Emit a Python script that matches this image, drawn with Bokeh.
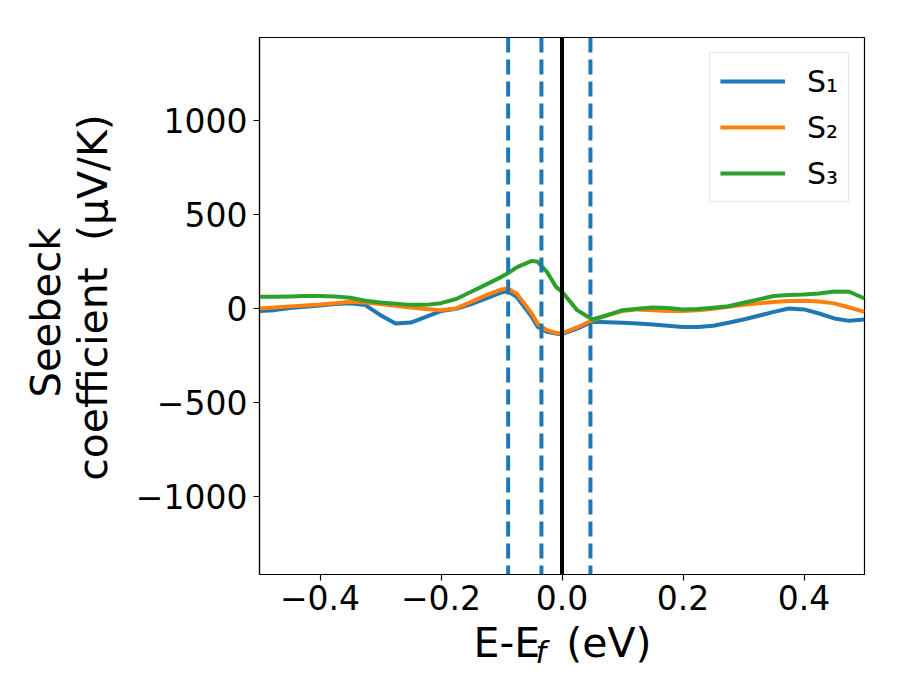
import math
from bokeh.plotting import figure
from bokeh.models import Span, Label, FixedTicker, CustomJSTickFormatter
from bokeh.embed import file_html
from bokeh.resources import INLINE

# ---- data ----
energy = [-0.5, -0.475, -0.45, -0.425, -0.4, -0.375, -0.35, -0.325, -0.3, -0.275,
          -0.25, -0.225, -0.2, -0.175, -0.15, -0.125, -0.1,
          -0.09, -0.075, -0.05, -0.04, -0.025, -0.01, 0.0,
          0.025, 0.05, 0.075, 0.1, 0.125, 0.15, 0.175, 0.2, 0.225, 0.25,
          0.275, 0.3, 0.325, 0.35, 0.375, 0.4, 0.425, 0.45, 0.475, 0.5]
s1 = [-14, -9, 2, 9, 16, 23, 27, 18, -36, -80,
      -75, -45, -14, -2, 23, 53, 85,
      92, 62, -45, -98, -124, -133, -137,
      -107, -71, -73, -76, -80, -85, -92, -99, -99, -92,
      -76, -59, -39, -18, 0, -5, -27, -53, -66, -59]
s2 = [0, 5, 11, 16, 21, 28, 35, 32, 23, 14,
      5, -3, -9, 0, 35, 71, 101,
      106, 80, -27, -83, -116, -130, -133,
      -101, -63, -36, -14, -5, -9, -14, -14, -9, -2,
      9, 20, 27, 34, 39, 41, 37, 27, 5, -18]
s3 = [62, 62, 64, 66, 66, 64, 57, 41, 32, 25,
      19, 19, 28, 50, 89, 128, 168,
      186, 218, 253, 248, 195, 115, 89,
      -9, -59, -36, -9, -2, 5, 2, -5, -3, 4,
      12, 30, 48, 66, 71, 74, 80, 90, 89, 53]
series_labels = ["S\u2081", "S\u2082", "S\u2083"]
series_colors = ["#1f77b4", "#ff7f0e", "#2ca02c"]
dashed_levels = [-0.089, -0.034, 0.047]
fermi_level = [0.0]
x_ticks = [-0.4, -0.2, 0.0, 0.2, 0.4]
y_ticks = [-1000, -500, 0, 500, 1000]
XR = (-0.5, 0.5)
YR = (-1415, 1441)

FONT = "DejaVu Sans"
FL, FT, FW, FH = 259, 37, 605, 537  # frame position on page (px)

p = figure(frame_width=FW, frame_height=FH, x_range=XR, y_range=YR,
           min_border_left=FL, min_border_top=FT,
           min_border_right=30, min_border_bottom=115,
           output_backend="svg", toolbar_location=None)
p.grid.visible = False
p.outline_line_color = "black"
p.outline_line_width = 1.2
p.background_fill_color = "white"
p.border_fill_color = "white"

for ax in (p.xaxis[0], p.yaxis[0]):
    ax.axis_line_color = "black"
    ax.axis_line_width = 1.2
    ax.major_tick_line_color = "black"
    ax.major_tick_line_width = 1.2
    ax.major_tick_in = 0
    ax.major_tick_out = 6
    ax.minor_tick_line_color = None
    ax.major_label_text_font = FONT
    ax.major_label_text_font_size = "33px"
    ax.major_label_text_color = "black"

p.xaxis.ticker = FixedTicker(ticks=x_ticks)
p.yaxis.ticker = FixedTicker(ticks=y_ticks)
p.xaxis.formatter = CustomJSTickFormatter(code="return tick.toFixed(1).replace('-', '\u2212');")
p.yaxis.formatter = CustomJSTickFormatter(code="return tick.toFixed(0).replace('-', '\u2212');")
p.xaxis.major_label_standoff = 4
p.yaxis.major_label_standoff = 6

for ys, lab, col in zip([s1, s2, s3], series_labels, series_colors):
    p.line(energy, ys, line_color=col, line_width=4, line_join="round", legend_label=lab)

for v in dashed_levels:
    p.add_layout(Span(location=v, dimension="height", line_color="#1f77b4",
                      line_width=4, line_dash="15 7"))
for v in fermi_level:
    p.add_layout(Span(location=v, dimension="height", line_color="black", line_width=4))

# legend
lg = p.legend[0]
lg.location = "top_right"
lg.margin = 15
lg.padding = 10
lg.spacing = 10
lg.glyph_width = 65
lg.glyph_height = 36
lg.label_standoff = 22
lg.label_text_font = FONT
lg.label_text_font_size = "30px"
lg.label_text_color = "black"
lg.border_line_color = "#cccccc"
lg.border_line_width = 1
lg.background_fill_alpha = 0.8

# helpers: page pixel -> data coordinates (for text placement only)
def dx(px):
    return XR[0] + (px - FL) / FW * (XR[1] - XR[0])

def dy(py):
    return YR[1] - (py - FT) / FH * (YR[1] - YR[0])

def add_text(place, txt, px, py, size="40px", style="normal", angle=0.0, align="left"):
    p.add_layout(Label(x=dx(px), y=dy(py), text=txt, text_font=FONT,
                       text_font_size=size, text_font_style=style,
                       angle=angle, text_align=align, text_baseline="alphabetic",
                       text_color="black"), place)

NB = "\u00a0"
# x axis label: E-E_f (eV)
add_text("below", "E-E" + NB + NB + "(eV)", 473, 642, size="41px")
add_text("right", "f", 535, 652, size="30px", style="italic")

# y axis label (rotated, two lines)
rot = math.pi / 2
add_text("left", "Seebeck", 45, 312, angle=rot, align="center")
add_text("left", "coefficient" + NB + NB + "(\u03bcV/K)", 92, 297, angle=rot, align="center",
         size="41px")

open("out.html", "w").write(file_html(p, INLINE))
